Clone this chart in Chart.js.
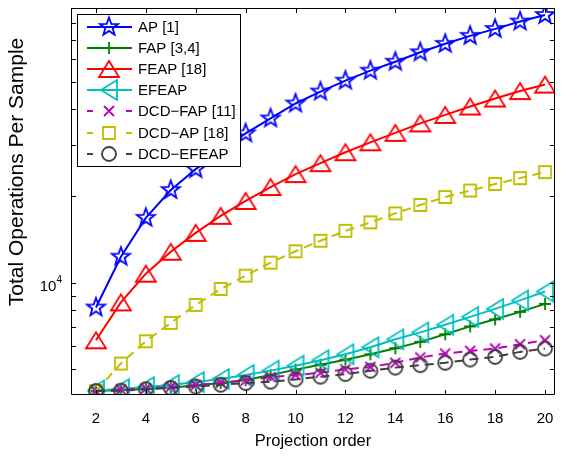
<!DOCTYPE html>
<html><head><meta charset="utf-8">
<script src="https://cdn.jsdelivr.net/npm/chart.js@4/dist/chart.umd.min.js"></script>
<style>html,body{margin:0;padding:0;background:#fff;}canvas{display:block;}</style>
</head><body>
<canvas id="c" width="563" height="456"></canvas>
<script>
const orders = [2,3,4,5,6,7,8,9,10,11,12,13,14,15,16,17,18,19,20];
const xTicks = [2,4,6,8,10,12,14,16,18,20];
const yTicks = [5000,6000,7000,8000,9000,10000,20000,30000,40000,50000,60000,70000,80000,90000];
const yLabelBase = '10', yLabelExp = '4', yLabelValue = 10000;
const apOps = [8190,12300,16790,20980,24800,28860,33040,37230,41960,46170,50390,54590,58640,63240,67670,72120,76260,80950,85260];
const fapOps = [4195,4230,4260,4315,4385,4475,4580,4770,4980,5180,5390,5630,5910,6220,6610,7040,7450,7910,8430];
const feapOps = [6300,8530,10740,12800,14890,17060,19220,21490,23840,26020,28400,30750,33170,35780,38290,40960,43660,46350,48820];
const efeapOps = [4210,4260,4330,4400,4510,4620,4770,4940,5140,5370,5630,5960,6350,6710,7130,7600,8100,8670,9310];
const dcdFapOps = [4195,4245,4280,4340,4400,4480,4565,4690,4770,4855,4990,5090,5260,5490,5665,5785,5895,6100,6300];
const dcdApOps = [4195,5230,6250,7240,8360,9500,10570,11730,12850,13980,15130,16200,17400,18620,19840,20900,22010,23080,24220];
const dcdEfeapOps = [4195,4205,4255,4300,4350,4410,4470,4520,4605,4705,4805,4935,5060,5160,5260,5400,5515,5740,5895];
const seriesNames = ['AP [1]','FAP [3,4]','FEAP [18]','EFEAP','DCD\u2212FAP [11]','DCD\u2212AP [18]','DCD\u2212EFEAP'];
const xTitle = 'Projection order';
const yTitle = 'Total Operations Per Sample';

const FONT = '"Liberation Sans", Arial, Helvetica, sans-serif';

function makeMarker(kind, color) {
  const s = 26, c = document.createElement('canvas');
  c.width = s; c.height = s;
  const g = c.getContext('2d');
  g.translate(s/2, s/2);
  g.strokeStyle = color; g.lineWidth = 1.8; g.lineJoin = 'miter';
  g.beginPath();
  switch (kind) {
    case 'pentagram':
      for (let i = 0; i < 10; i++) {
        const r = i % 2 ? 3.9 : 9.5;
        const a = -Math.PI/2 + i*Math.PI/5;
        const px = r*Math.cos(a), py = r*Math.sin(a);
        if (i) g.lineTo(px, py); else g.moveTo(px, py);
      }
      g.closePath(); break;
    case 'plus': g.moveTo(-6,0); g.lineTo(6,0); g.moveTo(0,-6); g.lineTo(0,6); break;
    case 'triUp': g.moveTo(0,-8); g.lineTo(10,8); g.lineTo(-10,8); g.closePath(); break;
    case 'triLeft': g.moveTo(-8,0); g.lineTo(8,-10); g.lineTo(8,10); g.closePath(); break;
    case 'cross': g.moveTo(-5,-5); g.lineTo(5,5); g.moveTo(5,-5); g.lineTo(-5,5); break;
    case 'square': g.rect(-6,-6,12,12); break;
    case 'circle': g.arc(0,0,7,0,2*Math.PI); break;
  }
  g.stroke();
  return c;
}

const styles = [
  {color:'#0000ff', marker:'pentagram', dash:[]},
  {color:'#008000', marker:'plus', dash:[]},
  {color:'#ff0000', marker:'triUp', dash:[]},
  {color:'#00bfbf', marker:'triLeft', dash:[]},
  {color:'#bf00bf', marker:'cross', dash:[9,6]},
  {color:'#bfbf00', marker:'square', dash:[9,6]},
  {color:'#404040', marker:'circle', dash:[9,6]}
];
const allValues = [apOps, fapOps, feapOps, efeapOps, dcdFapOps, dcdApOps, dcdEfeapOps];

const datasets = allValues.map((vals, i) => ({
  label: seriesNames[i],
  data: orders.map((o, k) => ({x: o, y: vals[k]})),
  borderColor: styles[i].color,
  backgroundColor: 'rgba(0,0,0,0)',
  borderWidth: 2,
  borderDash: styles[i].dash,
  pointStyle: makeMarker(styles[i].marker, styles[i].color),
  pointRadius: 6,
  pointHoverRadius: 6,
  tension: 0,
  fill: false,
  order: 6 - i
}));

const axesBox = {
  id: 'axesBox',
  afterDatasetsDraw(chart) {
    const {ctx, chartArea: a, scales: {x, y}} = chart;
    ctx.save();
    ctx.strokeStyle = '#000'; ctx.lineWidth = 1; ctx.setLineDash([]);
    ctx.beginPath();
    ctx.rect(a.left + 0.5, a.top + 0.5, a.right - a.left - 1, a.bottom - a.top - 1);
    const tl = 5;
    xTicks.forEach(v => {
      const px = Math.round(x.getPixelForValue(v)) + 0.5;
      ctx.moveTo(px, a.bottom); ctx.lineTo(px, a.bottom - tl);
      ctx.moveTo(px, a.top); ctx.lineTo(px, a.top + tl);
    });
    yTicks.forEach(v => {
      const py = Math.round(y.getPixelForValue(v)) + 0.5;
      ctx.moveTo(a.left, py); ctx.lineTo(a.left + tl, py);
      ctx.moveTo(a.right, py); ctx.lineTo(a.right - tl, py);
    });
    ctx.stroke();
    // labelled y tick: 10 with superscript 4
    ctx.fillStyle = '#000';
    ctx.textBaseline = 'alphabetic'; ctx.textAlign = 'right';
    const ty = y.getPixelForValue(yLabelValue);
    const rightX = a.left - 9;
    ctx.font = '10px ' + FONT;
    const expW = ctx.measureText(yLabelExp).width;
    ctx.fillText(yLabelExp, rightX, ty + 0.5);
    ctx.font = '15px ' + FONT;
    ctx.fillText(yLabelBase, rightX - expW, ty + 8);
    // y-axis title
    ctx.font = '21px ' + FONT;
    ctx.textAlign = 'center'; ctx.textBaseline = 'middle';
    ctx.translate(17, 172);
    ctx.rotate(-Math.PI / 2);
    ctx.fillText(yTitle, 0, 0);
    ctx.restore();
  }
};

const boxLegend = {
  id: 'boxLegend',
  afterDraw(chart) {
    const {ctx, chartArea: a} = chart;
    const bx = a.left + 6, by = a.top + 6, bw = 163, bh = 152, rowH = 21.1;
    ctx.save();
    ctx.fillStyle = '#fff'; ctx.fillRect(bx, by, bw, bh);
    ctx.strokeStyle = '#000'; ctx.lineWidth = 1; ctx.strokeRect(bx + 0.5, by + 0.5, bw, bh);
    chart.data.datasets.forEach((ds, i) => {
      const cy = Math.round(by + 13 + i * rowH);
      ctx.strokeStyle = ds.borderColor; ctx.lineWidth = ds.borderWidth;
      ctx.setLineDash(ds.borderDash.length ? [6, 33] : []);
      ctx.beginPath(); ctx.moveTo(bx + 10, cy); ctx.lineTo(bx + 55, cy); ctx.stroke();
      ctx.setLineDash([]);
      ctx.drawImage(ds.pointStyle, bx + 32 - 13, cy - 13);
      ctx.fillStyle = '#000';
      ctx.font = '15px ' + FONT;
      ctx.textBaseline = 'middle'; ctx.textAlign = 'left';
      ctx.fillText(ds.label, bx + 61, cy + 1);
    });
    ctx.restore();
  }
};

const chart = new Chart(document.getElementById('c'), {
  type: 'line',
  data: {datasets},
  plugins: [axesBox, boxLegend],
  options: {
    responsive: false,
    devicePixelRatio: 1,
    animation: false,
    events: [],
    layout: {padding: {top: 6, right: 1, left: 0, bottom: 0}},
    plugins: {legend: {display: false}, tooltip: {enabled: false}},
    scales: {
      x: {
        type: 'linear', min: 1, max: 20.4,
        afterBuildTicks: s => { s.ticks = xTicks.map(v => ({value: v})); },
        ticks: {autoSkip: false, maxRotation: 0, padding: 7, color: '#000', font: {family: FONT, size: 15}, callback: v => String(v)},
        grid: {display: false}, border: {display: false},
        title: {display: true, text: xTitle, color: '#000', font: {family: FONT, size: 16.5}, padding: {top: 0, bottom: 5}},
        afterFit: s => { s.height = 61; s.paddingLeft = 0; s.paddingRight = 0; }
      },
      y: {
        type: 'logarithmic', min: 4064, max: 90150,
        afterBuildTicks: s => { s.ticks = yTicks.map(v => ({value: v})); },
        ticks: {autoSkip: false, padding: 8, color: '#000', font: {family: FONT, size: 15}, callback: () => ''},
        grid: {display: false}, border: {display: false},
        title: {display: false},
        afterFit: s => { s.width = 71; s.paddingTop = 0; s.paddingBottom = 0; }
      }
    }
  }
});
// keep the plotting box where the reference has it
(function fixArea() {
  const target = {left: 71, right: 562, top: 6, bottom: 395};
  const a = chart.chartArea, p = chart.options.layout.padding;
  const dr = a.right - target.right, dt = target.top - a.top;
  if (Math.abs(dr) > 0.5 || Math.abs(dt) > 0.5) {
    p.right += dr; p.top += dt;
    chart.update();
  }
})();
</script>
</body></html>
